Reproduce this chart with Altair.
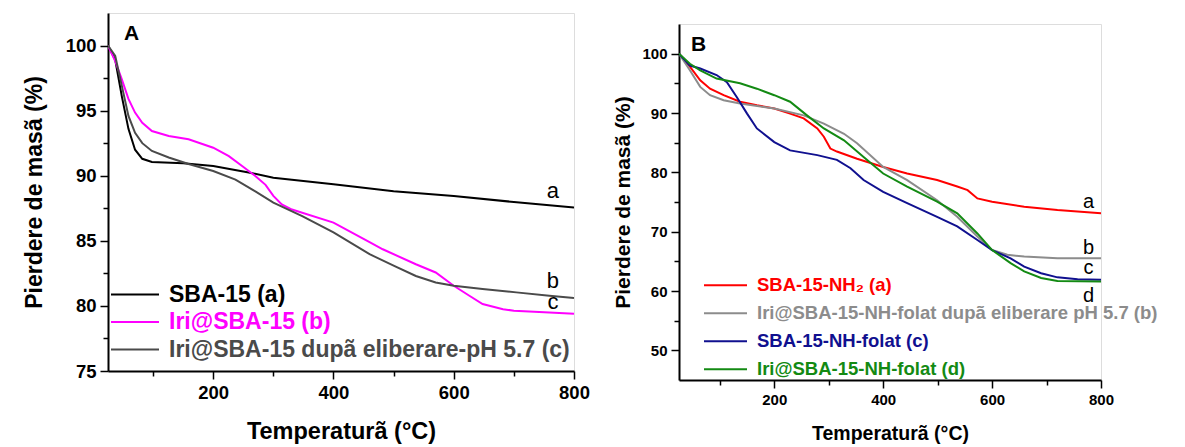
import altair as alt
import pandas as pd

# ---------------- Panel A data ----------------
a_names = ["SBA-15 (a)", "Iri@SBA-15 (b)", "Iri@SBA-15 dupã eliberare-pH 5.7 (c)"]
a_colors = ["#000000", "#ff00ff", "#4a4a4a"]

a_T_black = [25, 37, 48, 59, 70, 82, 98, 150, 200, 259, 300, 400, 500, 600, 700, 800]
a_v_black = [100, 98.9, 96.1, 93.6, 92.0, 91.3, 91.05, 90.95, 90.75, 90.25, 89.85, 89.35, 88.8, 88.45, 87.98, 87.55]

a_T_mag = [25, 37, 48, 59, 70, 82, 98, 126, 159, 200, 226, 248, 270, 287, 300, 314, 331, 400, 460, 482, 537, 570, 600, 626, 648, 682, 700, 759, 800]
a_v_mag = [100, 98.8, 97.4, 95.9, 94.85, 94.07, 93.43, 93.05, 92.8, 92.15, 91.5, 90.75, 89.98, 89.3, 88.45, 87.8, 87.4, 86.4, 84.9, 84.35, 83.2, 82.57, 81.55, 80.78, 80.14, 79.75, 79.63, 79.5, 79.4]

a_T_gray = [25, 37, 48, 59, 70, 82, 98, 126, 159, 200, 237, 270, 300, 348, 400, 460, 500, 537, 570, 600, 648, 704, 759, 800]
a_v_gray = [100, 99.2, 96.9, 94.6, 93.3, 92.5, 91.9, 91.4, 90.9, 90.36, 89.7, 88.8, 87.94, 86.9, 85.64, 83.97, 83.1, 82.3, 81.8, 81.55, 81.3, 81.04, 80.78, 80.6]

a_lbl_text = ["a", "b", "c"]
a_lbl_T = [765, 765, 765]
a_lbl_v = [88.8, 81.9, 80.3]

# ---------------- Panel B data ----------------
b_names = ["SBA-15-NH\u2082 (a)", "Iri@SBA-15-NH-folat dupã eliberare pH 5.7 (b)",
           "SBA-15-NH-folat (c)", "Iri@SBA-15-NH-folat (d)"]
b_colors = ["#ff0000", "#8c8c8c", "#10108f", "#138a13"]

b_T_red = [25, 45, 64, 82, 107, 137, 168, 200, 229, 254, 279, 291, 303, 315, 352, 400, 444, 499, 536, 555, 573, 600, 659, 720, 800]
b_v_red = [100, 97.8, 95.5, 94.1, 93.0, 91.9, 91.3, 90.75, 89.9, 89.1, 87.4, 86.0, 84.0, 83.5, 82.3, 80.9, 79.8, 78.7, 77.6, 77.0, 75.6, 75.05, 74.2, 73.65, 73.1]

b_T_gray = [25, 45, 64, 82, 107, 137, 200, 254, 291, 328, 352, 400, 444, 499, 536, 573, 600, 628, 659, 720, 800]
b_v_gray = [100, 97.2, 94.4, 93.0, 92.15, 91.6, 90.75, 89.6, 88.2, 86.5, 84.9, 80.9, 78.7, 75.3, 72.5, 69.2, 66.9, 66.1, 65.8, 65.5, 65.5]

b_T_blue = [25, 45, 64, 94, 113, 131, 150, 168, 200, 229, 279, 315, 340, 364, 400, 444, 499, 536, 573, 600, 634, 659, 690, 720, 757, 800]
b_v_blue = [100, 98.0, 97.5, 96.4, 95.2, 92.7, 89.9, 87.4, 85.1, 83.7, 82.9, 82.1, 80.7, 78.7, 76.7, 74.8, 72.5, 70.9, 68.6, 66.9, 65.5, 64.1, 63.0, 62.3, 62.0, 61.9]

b_T_green = [25, 45, 64, 94, 137, 168, 200, 229, 260, 291, 328, 364, 400, 444, 499, 536, 573, 600, 634, 659, 690, 720, 800]
b_v_green = [100, 98.3, 97.2, 95.8, 95.0, 94.1, 93.0, 91.9, 89.6, 87.4, 85.4, 82.6, 79.8, 77.6, 75.05, 73.1, 69.7, 66.9, 64.7, 63.3, 62.2, 61.7, 61.6]

b_lbl_text = ["a", "b", "c", "d"]
b_lbl_T = [777, 777, 777, 777]
b_lbl_v = [75.0, 67.2, 63.9, 59.1]

# tick values
x_major = [200, 400, 600, 800]
x_minor = [100, 300, 500, 700]
yA_major = [75, 80, 85, 90, 95, 100]
yA_minor = [77.5, 82.5, 87.5, 92.5, 97.5]
yB_major = [50, 60, 70, 80, 90, 100]
yB_minor = [55, 65, 75, 85, 95]

FONT = "Liberation Sans"


def series_df(names, Ts, vs):
    rows = []
    for name, T, v in zip(names, Ts, vs):
        for i, (t, y) in enumerate(zip(T, v)):
            rows.append({"serie": name, "T": t, "v": y, "o": i})
    return pd.DataFrame(rows)


def color_expr(names, colors):
    e = "'" + colors[-1] + "'"
    for n, c in reversed(list(zip(names[:-1], colors[:-1]))):
        e = "datum.label == '" + n + "' ? '" + c + "' : " + e
    return e


def panel(df, names, colors, lbl_df, letter, letter_x, width, height, ydom, ymaj, ymin,
          tick_fs, title_fs, xtitle_fs, leg_fs, leg_sym, leg_x, leg_y, leg_pad, lbl_fs,
          ytp, xtp):
    xs = alt.Scale(domain=[25, 800], nice=False, zero=False)
    ys = alt.Scale(domain=ydom, nice=False, zero=False)
    common = dict(domainColor="#000", domainWidth=2, tickColor="#000", tickWidth=1.5, grid=False)
    xaxis = alt.Axis(
        values=x_major, orient="bottom",
        title="Temperaturã (°C)", titleFontSize=xtitle_fs, titleFont=FONT,
        titleFontWeight="bold", titleColor="#000", titlePadding=xtp,
        labelFont=FONT, labelFontSize=tick_fs, labelFontWeight="bold", labelColor="#000",
        labelPadding=4, tickSize=8, labelFlush=False, labelOverlap=False, **common)
    yaxis = alt.Axis(
        values=ymaj, orient="left",
        title="Pierdere de masã (%)", titleFontSize=title_fs, titleFont=FONT,
        titleFontWeight="bold", titleColor="#000", titlePadding=ytp,
        labelFont=FONT, labelFontSize=tick_fs, labelFontWeight="bold", labelColor="#000",
        labelPadding=4, tickSize=8, labelFlush=False, labelOverlap=False, **common)
    xminor = alt.Axis(values=x_minor, orient="bottom", labels=False, title=None, tickSize=5,
                      domain=False, tickColor="#000", tickWidth=1.5, grid=False)
    yminor = alt.Axis(values=ymin, orient="left", labels=False, title=None, tickSize=5,
                      domain=False, tickColor="#000", tickWidth=1.5, grid=False)

    lines = alt.Chart(df).mark_line(strokeWidth=2, clip=True).encode(
        x=alt.X("T:Q", scale=xs, axis=xaxis),
        y=alt.Y("v:Q", scale=ys, axis=yaxis),
        order="o:Q",
        color=alt.Color("serie:N", scale=alt.Scale(domain=names, range=colors),
                        legend=alt.Legend(
                            title=None, orient="none", legendX=leg_x, legendY=leg_y,
                            symbolType="stroke", symbolSize=leg_sym, symbolStrokeWidth=2,
                            clipHeight=leg_fs, rowPadding=leg_pad, padding=0,
                            labelFont=FONT, labelFontSize=leg_fs, labelFontWeight="bold",
                            labelLimit=600, labelOffset=9,
                            labelColor=alt.ExprRef(color_expr(names, colors)),
                        )),
    )
    minor = alt.Chart(df).mark_line(opacity=0).encode(
        x=alt.X("T:Q", scale=xs, axis=xminor),
        y=alt.Y("v:Q", scale=ys, axis=yminor),
        detail="serie:N", order="o:Q")
    labels = alt.Chart(lbl_df).mark_text(font=FONT, fontSize=lbl_fs, color="#000",
                                         align="center", baseline="middle").encode(
        x=alt.X("T:Q", scale=xs, axis=None), y=alt.Y("v:Q", scale=ys, axis=None), text="t:N")
    letter_df = pd.DataFrame({"t": [letter]})
    let = alt.Chart(letter_df).mark_text(font=FONT, fontSize=21, fontWeight="bold",
                                         color="#000", align="left", baseline="middle").encode(
        x=alt.value(letter_x), y=alt.value(21), text="t:N")
    return alt.layer(lines, minor, labels, let).resolve_axis(
        x="independent", y="independent").properties(width=width, height=height)


dfA = series_df(a_names, [a_T_black, a_T_mag, a_T_gray], [a_v_black, a_v_mag, a_v_gray])
lblA = pd.DataFrame({"t": a_lbl_text, "T": a_lbl_T, "v": a_lbl_v})
dfB = series_df(b_names, [b_T_red, b_T_gray, b_T_blue, b_T_green],
                [b_v_red, b_v_gray, b_v_blue, b_v_green])
lblB = pd.DataFrame({"t": b_lbl_text, "T": b_lbl_T, "v": b_lbl_v})

pA = panel(dfA, a_names, a_colors, lblA, "A", 16, 466, 358, [75, 102.5], yA_major, yA_minor,
           18.5, 23, 23.5, 23, 2304, 2, 270, 3.5, 22, 19, 18)
pB = panel(dfB, b_names, b_colors, lblB, "B", 12, 422, 356, [45, 105], yB_major, yB_minor,
           15, 21, 19.5, 18.5, 1849, 24, 252, 9, 20, 8, 17)

spacer = alt.Chart(pd.DataFrame({"z": [0]})).mark_point(opacity=0).encode(
    x=alt.value(0), y=alt.value(0)).properties(
    width=422, height=1, view=alt.ViewBackground(strokeOpacity=0, strokeWidth=0))

colB = alt.vconcat(spacer, pB, spacing=7).resolve_scale(color="independent")

chart = alt.hconcat(pA, colB, spacing=22).resolve_scale(color="independent").configure_view(
    stroke="#000", strokeWidth=2).configure(padding={"left": 14, "top": 2, "right": 5, "bottom": 0})

chart.save("out.html", embed_options={"renderer": "svg", "actions": False})
